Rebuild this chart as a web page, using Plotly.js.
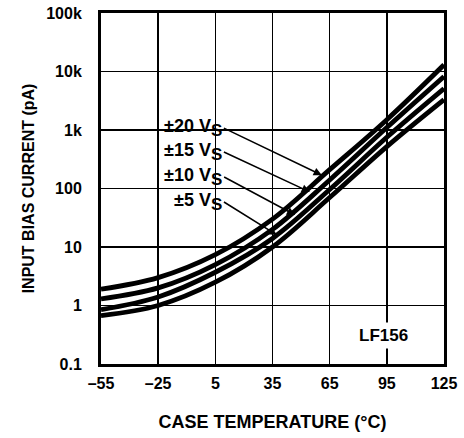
<!DOCTYPE html>
<html>
<head>
<meta charset="utf-8">
<script src="https://cdn.plot.ly/plotly-3.0.1.min.js"></script>
<style>html,body{margin:0;padding:0;background:#fff;}#chart{width:464px;height:438px;}</style>
</head>
<body>
<div id="chart"></div>
<script>
// Case temperature (°C)
const temperature = [-55, -25, 5, 35, 65, 95, 125];
// Input bias current (pA) for each supply voltage
const bias20V = [1.9, 3.0, 7.4, 30, 210, 1500, 13000];
const bias15V = [1.3, 2.0, 5.0, 20, 140, 1100, 8200];
const bias10V = [0.85, 1.4, 3.7, 14, 96, 750, 5100];
const bias5V  = [0.67, 1.0, 2.5, 10, 70, 520, 3300];
const seriesNames = ["±20 V", "±15 V", "±10 V", "±5 V"];
const xTickVals = [-55, -25, 5, 35, 65, 95, 125];
const xTickText = ["–55", "–25", "5", "35", "65", "95", "125"];
const yTickVals = [0.1, 1, 10, 100, 1000, 10000, 100000];
const yTickText = ["0.1", "1", "10", "100", "1k", "10k", "100k"];

const FONT = '"Liberation Sans", Arial, Helvetica, sans-serif';
const seriesData = [bias20V, bias15V, bias10V, bias5V];

const traces = seriesData.map((ys, i) => ({
  x: temperature, y: ys, type: 'scatter', mode: 'lines', name: seriesNames[i] + 'S',
  line: {color: '#000', width: 4.8, shape: 'spline', smoothing: 1},
  hoverinfo: 'skip', showlegend: false, cliponaxis: true
}));

// Arrow heads (paper coords) and tail offsets (pixels) -- label sits at the tail
const arrows = [
  {x: 0.644, y: 0.538, ax: -98, ay: -47},
  {x: 0.609, y: 0.490, ax: -86, ay: -40},
  {x: 0.566, y: 0.4245, ax: -71, ay: -38},
  {x: 0.513, y: 0.3675, ax: -53, ay: -33}
];

const annotations = [];
seriesNames.forEach((name, i) => {
  annotations.push({
    xref: 'paper', yref: 'paper', x: arrows[i].x, y: arrows[i].y,
    ax: arrows[i].ax, ay: arrows[i].ay, axref: 'pixel', ayref: 'pixel',
    xanchor: 'right', yanchor: 'middle',
    text: '<b>' + name + '<sub><span style="font-size:17px">S</span></sub></b>',
    showarrow: true, arrowhead: 2, arrowsize: 1.1, arrowwidth: 1.5, arrowcolor: '#000',
    standoff: 0, startstandoff: 0, borderpad: 1,
    font: {family: FONT, size: 18, color: '#000'}
  });
});
annotations.push({
  xref: 'paper', yref: 'paper', x: 0.823, y: 0.082, xanchor: 'center', yanchor: 'middle',
  text: '<b>LF156</b>', showarrow: false, bgcolor: '#fff', borderpad: 3,
  font: {family: FONT, size: 17, color: '#000'}
});

const layout = {
  width: 464, height: 438,
  margin: {l: 101, r: 20, t: 13, b: 74},
  paper_bgcolor: '#fff', plot_bgcolor: '#fff',
  showlegend: false,
  font: {family: FONT, color: '#000'},
  xaxis: {
    range: [-55, 125], tickvals: xTickVals, ticktext: xTickText,
    showgrid: true, gridcolor: '#000', gridwidth: 1.5,
    showline: true, linecolor: '#000', linewidth: 3, mirror: true,
    ticks: '', ticklabelstandoff: 3, zeroline: false,
    tickfont: {family: FONT, size: 16, color: '#000', weight: 'bold'},
    title: {text: '<b>CASE TEMPERATURE (°C)</b>', font: {family: FONT, size: 18, color: '#000'}, standoff: 25}
  },
  yaxis: {
    type: 'log', range: [-1, 5], tickvals: yTickVals, ticktext: yTickText,
    showgrid: true, gridcolor: '#000', gridwidth: 1.5,
    showline: true, linecolor: '#000', linewidth: 3, mirror: true,
    ticks: '', ticklabelstandoff: 13, zeroline: false,
    tickfont: {family: FONT, size: 16, color: '#000', weight: 'bold'},
    title: {text: '<b>INPUT BIAS CURRENT (pA)</b>', font: {family: FONT, size: 16, color: '#000'}, standoff: 8}
  },
  shapes: [{
    type: 'rect', xref: 'paper', yref: 'paper', layer: 'between',
    x0: 0.163, x1: 0.385, y0: 0.382, y1: 0.718,
    fillcolor: '#fff', line: {width: 0}
  }],
  annotations: annotations
};

Plotly.newPlot('chart', traces, layout, {displayModeBar: false, staticPlot: true});
</script>
</body>
</html>
